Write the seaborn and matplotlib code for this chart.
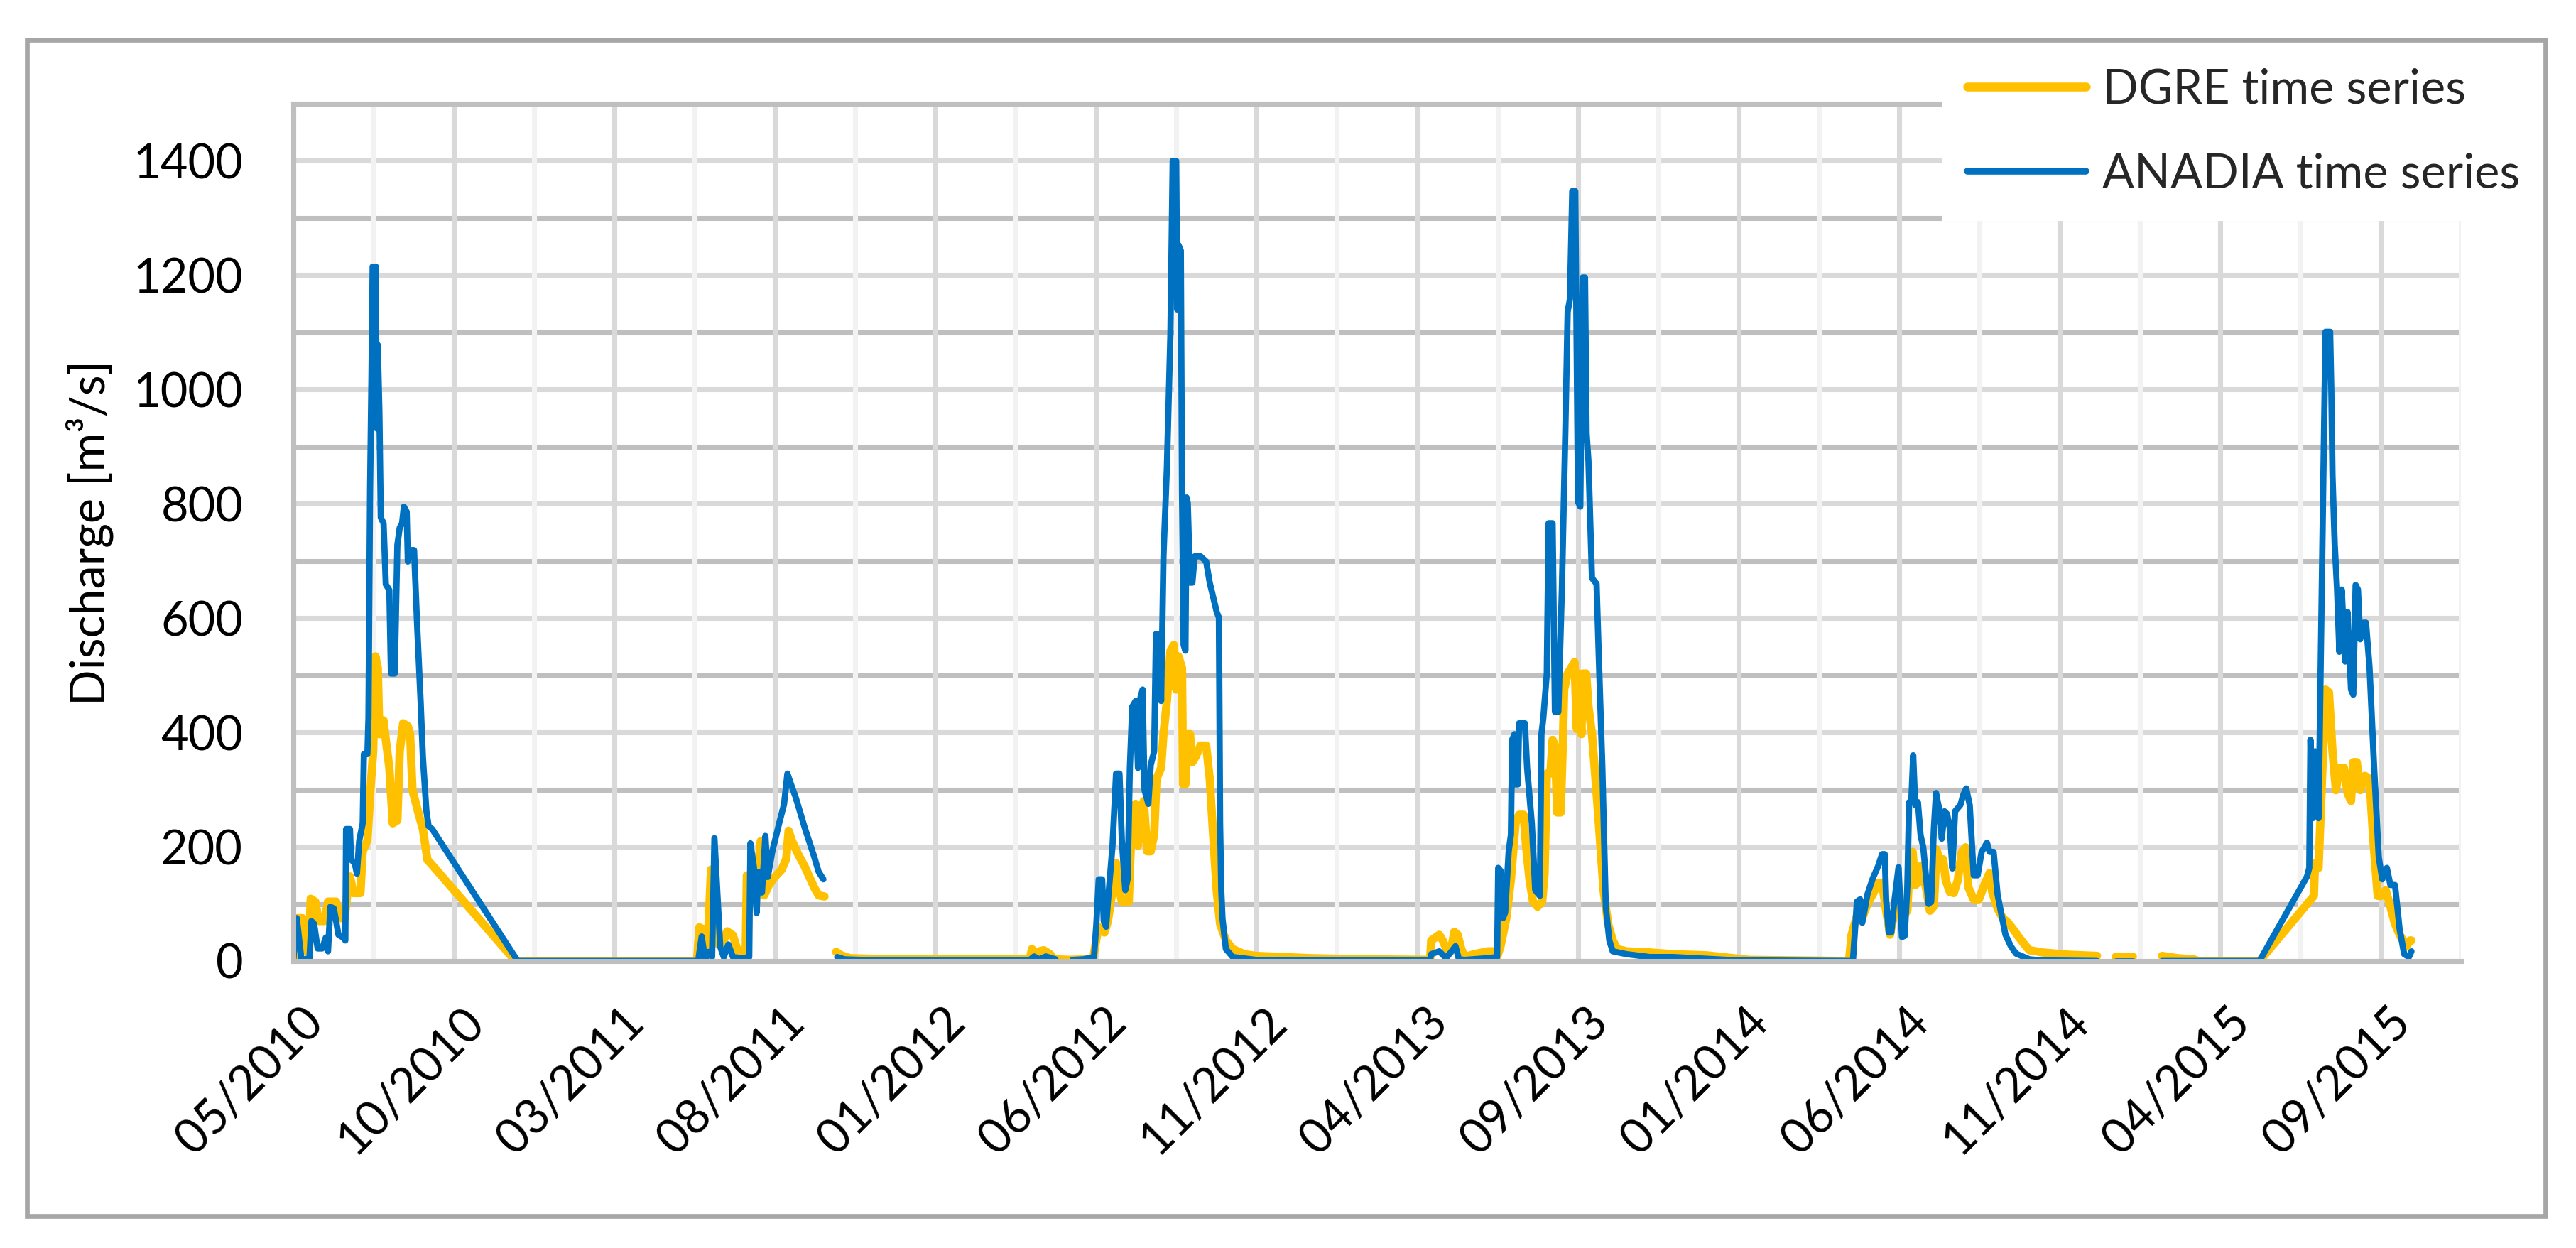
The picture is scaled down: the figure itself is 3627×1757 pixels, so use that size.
import numpy as np
import pandas as pd
import matplotlib
matplotlib.use("Agg")
import matplotlib.pyplot as plt
import matplotlib.dates as mdates
import matplotlib.transforms as mtransforms
from matplotlib.lines import Line2D
from matplotlib.patches import Rectangle
import seaborn as sns

# ---------------- data ----------------
START = "2010-05-20"          # first day of the record / left edge of the axis
AXIS_DAYS = 1979              # length of the x axis in days
TICK_STEP_DAYS = 150
TICK_LABELS = ["05/2010", "10/2010", "03/2011", "08/2011", "01/2012", "06/2012",
               "11/2012", "04/2013", "09/2013", "01/2014", "06/2014", "11/2014",
               "04/2015", "09/2015"]
Y_TICKS = [0, 200, 400, 600, 800, 1000, 1200, 1400]
GAP = np.nan

# DGRE series: day offset from START, discharge m3/s (GAP = missing data)
DGRE_DAY = [
    0, 2.2, 8.6, 11.9, 14.7, 16.2, 20.5, 23.8, 29.2, 32.4, 40.0, 43.2, 48.0, 50.8, 52.9,
    56.2, 62.7, 64.8, 69.2, 72.4, 74.6, 76.7, 78.9, 80.4, 84.3, 86.4, 89.7, 92.9, 97.2,
    99.4, 102.6, 107.0, 109.1, 111.3, 116.7, 121.0, 125.3, 129.7, 207.5, 377.2,
    379.3, 383.7, 386.9, 390.2, 392.3, 396.7, 401.0, 405.3, 410.7, 415.1, 422.6, 423.7,
    430.2, 436.7, 439.9, 444.3, 449.7, 456.2, 460.5, 462.7, 465.9, 471.3, 477.8, 486.5,
    490.8, 496.2, 501,
    507.1, 512, 520, 560, 640, 688, 690, 694, 697, 701, 707, 711, 725, 745,
    747.0, 749.1, 751.3, 754.5, 757.8, 761.0, 765.3, 768.6, 771.8, 774.0, 780.5, 783.7,
    786.9, 789.1, 791.3, 794.5, 797.7, 801.0, 804.2, 806.4, 810.7, 812.9, 816.1, 819.4,
    822.6, 824.8, 826.9, 830.2, 831.2, 833.4, 835.6, 837.7, 839.9, 843.1, 847.5, 852.8,
    856.1, 859.3, 862.6, 865.8, 871.2, 877.7, 888.5, 899.3, 950, 1000, 1062,
    1063.0, 1070.5, 1073.8, 1078.1, 1081.3, 1084.6, 1087.8, 1091.1, 1094.3, 1102.9,
    1115.9, 1121.3, 1124.6, 1127.8, 1133.2, 1137.5, 1141.8, 1145.1, 1149.4, 1151.6,
    1154.8, 1158.1, 1162.4, 1166.7, 1168.9, 1171.0, 1174.3, 1176.4, 1178.6, 1180.7,
    1184.0, 1186.1, 1187.2, 1190.5, 1193.7, 1196.9, 1199.1, 1200.2, 1203.4, 1204.5,
    1207.8, 1209.9, 1213.2, 1215.3, 1219.6, 1224.0, 1228.3, 1232.6, 1236.9, 1245.6,
    1267.2, 1288.8, 1320, 1345, 1360, 1453.3,
    1455.7, 1460.7, 1465.7, 1470.6, 1475.6, 1480.5, 1484.2, 1488.0, 1491.7, 1495.4,
    1497.9, 1502.8, 1507.8, 1510.3, 1512.8, 1515.2, 1517.7, 1520.2, 1525.2, 1528.9,
    1532.6, 1535.1, 1537.5, 1541.3, 1543.7, 1547.5, 1551.2, 1554.9, 1558.6, 1562.3,
    1564.8, 1569.8, 1574.7, 1579.7, 1584.6, 1587.1, 1592.1, 1597.0, 1602.0, 1607.0,
    1611.9, 1616.9, 1621.8, 1634.2, 1659.0, 1685.0, 1694,
    1702.4, 1718.5, 1732,
    1745.8, 1760, 1775, 1780, 1836.8,
    1887.6, 1888.7, 1892.0, 1895.2, 1898.5, 1901.7, 1905.0, 1908.2, 1911.4, 1915.8,
    1919.0, 1922.3, 1924.4, 1927.7, 1930.9, 1935.3, 1939.6, 1942.8, 1947.2, 1950.4,
    1954.7, 1959.1, 1963.4, 1967.7, 1974.2, 1977.4, 1978.8,
]
DGRE_Q = [
    0, 75, 75, 17, 17, 109, 104, 70, 70, 104, 104, 75, 75, 124, 148,
    119, 119, 192, 211, 309, 367, 533, 513, 397, 421, 387, 338, 241, 246,
    367, 416, 411, 397, 299, 260, 231, 177, 168, 0, 0,
    59, 55, 20, 160, 160, 30, 30, 52, 45, 18, 18, 150,
    106, 210, 115, 133, 147, 160, 179, 228, 210, 188, 165, 129,
    115, 113, GAP,
    16, 10, 5, 3, 3, 3, 21, 14, 17, 19, 12, 3, 2, 3,
    2, 26, 50, 60, 50, 70, 124, 172, 124, 104, 104, 270,
    275, 202, 260, 280, 192, 192, 221, 319, 338, 397, 455, 543,
    553, 475, 533, 513, 309, 309, 397, 397, 348, 358, 377, 377,
    319, 221, 124, 65, 36, 21, 12, 9, 5, 3, 2,
    36, 46, 36, 17, 17, 51, 46, 21, 7, 12,
    17, 17, 7, 26, 75, 143, 241, 256, 256, 202,
    143, 104, 95, 104, 153, 328, 328, 387, 377, 260,
    260, 387, 475, 503, 513, 523, 406, 503, 397, 503,
    503, 446, 397, 348, 241, 124, 65, 36, 21, 17,
    15, 12, 10, 5, 2, 0,
    46, 79, 75, 100, 117, 137, 137, 88, 46, 83,
    108, 75, 88, 183, 191, 133, 137, 166, 129, 88,
    96, 195, 178, 178, 141, 121, 119, 141, 191, 199,
    129, 108, 108, 133, 154, 121, 92, 75, 67, 55,
    42, 30, 19, 15, 11, 9, GAP,
    7, 7, GAP,
    9, 5, 3, 0, 0,
    114, 172, 163, 318, 475, 470, 367, 299, 338, 338,
    294, 280, 348, 348, 299, 324, 319, 221, 114, 114,
    124, 95, 65, 46, 26, 36, 36,
]

# ANADIA series
ANADIA_DAY = [
    0, 3.2, 7.6, 15.1, 16.9, 19.4, 22.7, 27.0, 30.3, 32.4, 34.6, 37.8, 40.0, 42.1, 46.5,
    48.6, 49.3, 52.9, 54.0, 57.3, 59.4, 61.6, 64.8, 65.9, 69.2, 70.2, 71.7, 73.0, 74.1,
    77.1, 77.8, 78.9, 80.4, 81.7, 84.3, 86.4, 89.7, 91.2, 94.7, 97.2, 99.4, 101.6, 103.3,
    105.9, 107.0, 109.1, 112.8, 115.6, 118.9, 121.0, 124.3, 126.4, 129.7, 209.6, 378.2,
    381.5, 384.7, 388.0, 391.2, 393.4, 398.8, 402.1, 406.4, 410.7, 419.4, 425.9, 427.0,
    430.2, 432.8, 434.5, 437.8, 441.0, 443.2, 447.5, 454.0, 458.4, 461.6, 464.8, 469.2,
    477.8, 486.5, 490.8, 495.2, 501,
    508.1, 515, 530, 600, 688, 692, 697, 703, 712, 720,
    728, 738, 748.0, 750.2, 752.4, 755.6, 757.1, 759.3, 761.0, 765.3, 768.6, 771.8, 774.0,
    777.2, 779.4, 781.5, 783.7, 786.9, 789.1, 791.3, 793.4, 795.2, 798.8, 801.0, 804.2,
    805.9, 808.5, 810.7, 812.9, 816.1, 819.4, 821.5, 824.8, 825.8, 826.9, 829.1, 830.2,
    831.7, 833.4, 834.5, 835.6, 837.7, 839.9, 842.0, 847.5, 852.8, 856.1, 858.3, 862.6,
    864.7, 865.8, 866.9, 868.0, 871.2, 877.7, 899.3, 1061.9,
    1063.0, 1070.5, 1077.0, 1085.7, 1088.9, 1094.3, 1115.9, 1124.6, 1125.6, 1127.8,
    1130.0, 1132.1, 1135.4, 1137.5, 1138.6, 1140.8, 1141.8, 1144.0, 1145.1, 1150.5,
    1152.6, 1157.0, 1160.2, 1164.5, 1166.0, 1167.8, 1171.0, 1172.7, 1176.4, 1178.6,
    1181.8, 1185.1, 1188.3, 1190.5, 1192.6, 1194.8, 1197.6, 1200.2, 1202.3, 1204.5,
    1206.7, 1208.2, 1209.9, 1213.2, 1217.5, 1219.6, 1222.9, 1226.1, 1229.4, 1232.6,
    1245.6, 1267.2, 1288.8, 1320, 1350, 1457.0,
    1460.7, 1463.7, 1465.7, 1470.6, 1475.6, 1480.5, 1484.2, 1486.7, 1488.0, 1490.4,
    1492.9, 1495.4, 1499.6, 1502.8, 1505.3, 1507.8, 1509.5, 1511.5, 1513.3, 1515.2,
    1517.7, 1520.2, 1522.7, 1527.6, 1530.1, 1532.6, 1534.6, 1537.5, 1540.0, 1542.5,
    1545.0, 1547.5, 1549.9, 1552.4, 1557.4, 1559.9, 1562.8, 1566.1, 1569.8, 1573.5,
    1577.2, 1582.2, 1584.6, 1588.4, 1592.1, 1594.6, 1599.5, 1604.5, 1609.4, 1621.8,
    1634.2, 1685.0, 1694,
    1702.4, 1718.5, 1732,
    1745.8, 1836.8,
    1881.2, 1883.3, 1884.4, 1886.6, 1888.7, 1890.9, 1892.0, 1894.1, 1896.3, 1898.5,
    1902.8, 1903.9, 1905.0, 1907.1, 1909.3, 1911.4, 1913.6, 1916.9, 1919.0, 1922.3,
    1924.4, 1926.6, 1928.8, 1930.9, 1934.2, 1936.3, 1939.6, 1943.9, 1948.2, 1951.5,
    1955.8, 1959.1, 1963.4, 1967.7, 1972.0, 1976.4, 1978.8,
]
ANADIA_Q = [
    0, 75, 2, 5, 70, 65, 22, 22, 41, 17, 95, 92, 70, 46, 41,
    36, 231, 231, 177, 172, 153, 211, 241, 362, 362, 426, 825, 1020, 1215,
    1215, 932, 1078, 961, 776, 766, 659, 649, 503, 503, 728, 758, 766, 795,
    786, 699, 719, 719, 591, 455, 358, 263, 236, 231, 0, 0,
    43, 2, 16, 7, 215, 25, 7, 29, 7, 5, 7, 206,
    165, 84, 156, 120, 219, 147, 192, 242, 274, 328, 310, 287,
    233, 183, 156, 143, GAP,
    7, 3, 2, 2, 2, 8, 3, 8, 3, GAP,
    2, 3, 7, 65, 143, 143, 70, 60, 104, 202, 328, 328, 211,
    124, 143, 338, 445, 455, 338, 460, 475, 299, 275, 343, 367,
    572, 572, 455, 708, 864, 1098, 1400, 1400, 1140, 1253, 1243, 825,
    553, 543, 811, 801, 662, 662, 708, 708, 699, 662, 645, 611,
    601, 241, 124, 75, 21, 7, 2, 2,
    12, 17, 5, 26, 3, 2, 5, 7, 163, 158,
    75, 85, 192, 221, 387, 397, 309, 309, 416, 416,
    338, 241, 124, 114, 397, 426, 503, 766, 766, 436,
    436, 651, 924, 1136, 1158, 1347, 1347, 803, 795, 1196,
    1196, 923, 875, 670, 660, 531, 338, 95, 36, 17,
    12, 7, 7, 4, 1, 0,
    104, 108, 67, 117, 145, 166, 187, 187, 108, 50,
    50, 100, 164, 42, 44, 129, 278, 278, 360, 273,
    278, 220, 199, 100, 104, 232, 294, 267, 214, 262,
    257, 232, 162, 262, 273, 290, 302, 273, 150, 150,
    191, 207, 191, 191, 117, 92, 46, 26, 13, 3,
    1, 0, GAP,
    0, 0, GAP,
    0, 0,
    148, 163, 387, 250, 367, 357, 250, 533, 825, 1101,
    1101, 999, 850, 728, 650, 541, 650, 524, 611, 475,
    466, 658, 650, 563, 592, 592, 514, 338, 182, 143,
    163, 133, 133, 56, 12, 7, 17,
]

SERIES_NAMES = ["DGRE time series", "ANADIA time series"]
COLORS = ["#FFC000", "#0070C0"]
WIDTHS = [2.8, 2.1]


def to_frame(days, q, name):
    df = pd.DataFrame({"day": days, "q": q})
    df["seg"] = df["q"].isna().cumsum()
    df = df.dropna().copy()
    df["date"] = pd.Timestamp(START) + pd.to_timedelta(df["day"], unit="D")
    df["series"] = name
    return df


frames = [to_frame(DGRE_DAY, DGRE_Q, SERIES_NAMES[0]),
          to_frame(ANADIA_DAY, ANADIA_Q, SERIES_NAMES[1])]

# ---------------- figure ----------------
sns.set_theme(style="white")
plt.rcParams["font.family"] = ["Lato", "DejaVu Sans"]

W, H, DPI = 3627, 1757, 300
fig = plt.figure(figsize=(W / DPI, H / DPI), dpi=DPI)
ax = fig.add_axes([413 / W, 1 - 1353 / H, (3465 - 413) / W, (1353 - 146) / H])

for df, c, lw in zip(frames, COLORS, WIDTHS):
    sns.lineplot(data=df, x="date", y="q", units="seg", estimator=None, sort=False,
                 color=c, linewidth=lw, ax=ax, legend=False,
                 solid_capstyle="round", solid_joinstyle="round")

start = pd.Timestamp(START)
ax.set_xlim(start, start + pd.Timedelta(days=AXIS_DAYS))
ax.set_ylim(0, 1500)

major = [mdates.date2num(start + pd.Timedelta(days=TICK_STEP_DAYS * k)) for k in range(len(TICK_LABELS))]
minor = [mdates.date2num(start + pd.Timedelta(days=TICK_STEP_DAYS * k + TICK_STEP_DAYS / 2))
         for k in range(len(TICK_LABELS))]
ax.set_xticks(major)
ax.set_xticks(minor, minor=True)
ax.set_xticklabels(TICK_LABELS, rotation=45, ha="right", rotation_mode="anchor")
ax.set_yticks(Y_TICKS)
ax.set_yticks([y + 100 for y in Y_TICKS], minor=True)
ax.set_yticklabels([str(v) for v in Y_TICKS])

ax.tick_params(axis="both", which="both", length=0, labelsize=16, colors="black")
ax.tick_params(axis="y", pad=17)
ax.tick_params(axis="x", pad=13)
shift = mtransforms.ScaledTranslation(10 / DPI, 0, fig.dpi_scale_trans)
for lab in ax.get_xticklabels():
    lab.set_transform(lab.get_transform() + shift)

ax.set_axisbelow(True)
ax.grid(True, axis="y", which="major", color="#D9D9D9", linewidth=1.7)
ax.grid(True, axis="y", which="minor", color="#BFBFBF", linewidth=1.7)
ax.grid(True, axis="x", which="major", color="#D9D9D9", linewidth=1.7)
ax.grid(True, axis="x", which="minor", color="#F2F2F2", linewidth=1.7)
ax.xaxis.set_zorder(0.6)

for side in ["left", "bottom", "top"]:
    ax.spines[side].set_color("#BFBFBF")
    ax.spines[side].set_linewidth(1.7)
ax.spines["right"].set_visible(False)

ax.set_xlabel("")
ax.set_ylabel("Discharge [m³/s]", fontsize=16, color="black")
ax.yaxis.set_label_coords(-0.083, 0.5)

handles = [Line2D([0], [0], color=c, lw=lw + 0.2, solid_capstyle="round") for c, lw in zip(COLORS, WIDTHS)]
leg = ax.legend(handles, SERIES_NAMES, loc="upper left",
                bbox_to_anchor=(2737 / W, 1 - 62 / H), bbox_transform=fig.transFigure,
                frameon=True, fancybox=False, framealpha=1, edgecolor="white",
                facecolor="white", fontsize=16, handlelength=2.5, handletextpad=0.35,
                labelspacing=0.85, borderpad=0.5, borderaxespad=0)
leg.set_zorder(5)

fig.add_artist(Rectangle((38 / W, 1 - 1712 / H), (3584 - 38) / W, (1712 - 56) / H,
                         transform=fig.transFigure, fill=False, edgecolor="#A6A6A6",
                         linewidth=1.6))

fig.savefig("out.png", dpi=DPI, facecolor="white")
